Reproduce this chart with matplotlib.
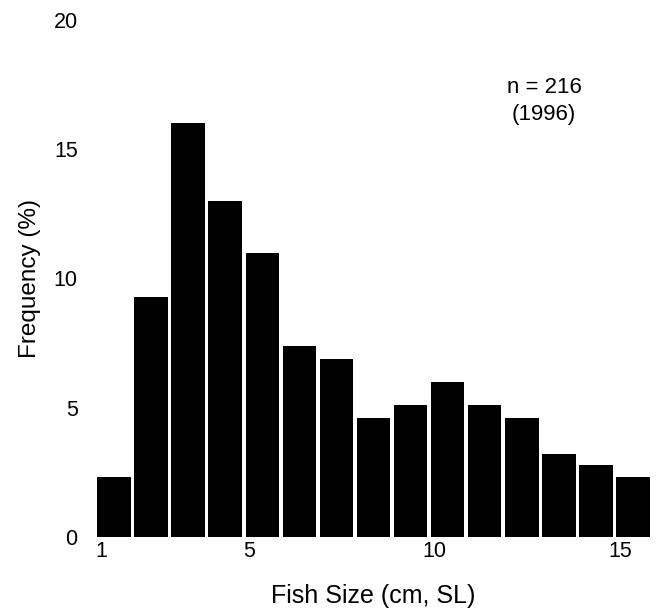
import matplotlib
matplotlib.use('Agg')
import matplotlib.pyplot as plt

plt.rcParams['font.family'] = ['Liberation Sans', 'DejaVu Sans']

# fish size classes (cm, SL) and frequency (%), n = 216
sizes = [1, 2, 3, 4, 5, 6, 7, 8, 9, 10, 11, 12, 13, 14, 15]
freq = [2.3, 9.3, 16.0, 13.0, 11.0, 7.4, 6.9, 4.6, 5.1, 6.0, 5.1, 4.6, 3.2, 2.8, 2.3]
xtick_vals = [1, 5, 10, 15]
ytick_vals = [0, 5, 10, 15, 20]

fig = plt.figure(figsize=(6.61, 6.08), dpi=100)
ax = fig.add_axes([0.147, 0.117, 0.836, 0.85])

ax.bar(sizes, freq, width=0.9, align='edge', color='black', edgecolor='none')

ax.set_xlim(1, 15.9)
ax.set_ylim(0, 20)
ax.set_xticks([v + 0.1 for v in xtick_vals])
ax.set_xticklabels([str(v) for v in xtick_vals])
ax.set_yticks(ytick_vals)
ax.tick_params(axis='both', length=0, labelsize=15.5)
ax.tick_params(axis='y', pad=14)
ax.tick_params(axis='x', pad=3)
for s in ax.spines.values():
    s.set_visible(False)

ax.set_xlabel('Fish Size (cm, SL)', fontsize=18, labelpad=16)
ax.set_ylabel('Frequency (%)', fontsize=17.5, labelpad=9)

# sample size note, upper right
fig.text(0.823, 0.847, 'n = 216', ha='center', va='baseline', fontsize=16)
fig.text(0.823, 0.803, '(1996)', ha='center', va='baseline', fontsize=16)

fig.savefig('out.png', dpi=100)
